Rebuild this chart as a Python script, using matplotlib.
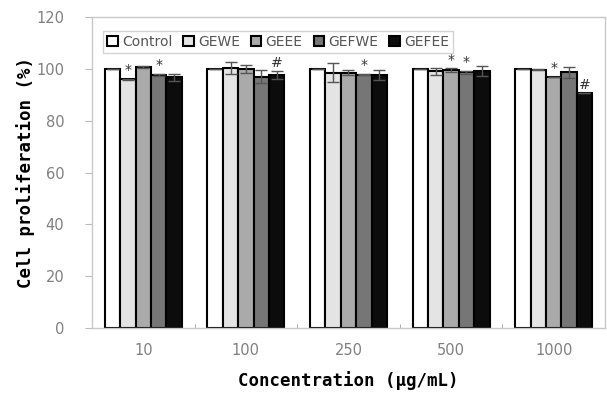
import numpy as np
import matplotlib
matplotlib.use('Agg')
import matplotlib.pyplot as plt

concs = ['10', '100', '250', '500', '1000']
groups = ['Control', 'GEWE', 'GEEE', 'GEFWE', 'GEFEE']
colors = ['#ffffff', '#e4e4e4', '#aaaaaa', '#767676', '#0c0c0c']

control = [100, 100, 100, 100, 100]
gewe = [95.9, 100.4, 98.5, 99.1, 99.7]
geee = [100.8, 100.0, 98.5, 99.6, 97.0]
gefwe = [97.7, 97.0, 97.8, 98.7, 98.7]
gefee = [96.7, 97.6, 97.6, 99.2, 90.5]

control_err = [0, 0, 0, 0, 0]
gewe_err = [0.3, 2.2, 3.7, 1.4, 0.3]
geee_err = [0.3, 1.5, 0.9, 0.8, 0.0]
gefwe_err = [0.4, 2.4, 0.3, 0.6, 2.2]
gefee_err = [1.4, 1.5, 1.9, 1.9, 0.0]

# significance marks (group index, conc index, symbol)
marks = [(1, 0, '*'), (3, 0, '*'), (4, 1, '#'), (3, 2, '*'),
         (2, 3, '*'), (3, 3, '*'), (2, 4, '*'), (4, 4, '#')]

values = [control, gewe, geee, gefwe, gefee]
errors = [control_err, gewe_err, geee_err, gefwe_err, gefee_err]

fig = plt.figure(figsize=(6.07, 3.93), dpi=100)
ax = fig.add_axes([0.1516, 0.1654, 0.845, 0.7913])

x = np.arange(len(concs))
w = 0.15
for i, g in enumerate(groups):
    pos = x + (i - 2) * w
    ax.bar(pos, values[i], w, color=colors[i], edgecolor='black',
           linewidth=1.5, label=g, zorder=2)
    ax.errorbar(pos, values[i], yerr=errors[i], fmt='none', ecolor='#555555',
                elinewidth=1, capsize=4, capthick=1, zorder=3)

for gi, ci, sym in marks:
    xx = x[ci] + (gi - 2) * w
    yy = values[gi][ci] + errors[gi][ci]
    ax.text(xx, yy + 0.5, sym, ha='center', va='bottom',
            fontsize=10, color='#333333')

ax.set_xlim(-0.5, 4.5)
ax.set_ylim(0, 120)
ax.set_yticks(np.arange(0, 121, 20))
ax.set_xticks(x)
ax.set_xticklabels(concs)
ax.set_xticks(np.arange(-0.5, 4.6, 1), minor=True)
ax.tick_params(axis='x', which='major', length=0, pad=11,
               labelsize=10.5, labelcolor='#808080')
ax.tick_params(axis='x', which='minor', length=3, direction='in',
               color='#999999')
ax.tick_params(axis='y', length=5, color='#bbbbbb', labelsize=10.5,
               labelcolor='#808080', pad=15)
for s in ax.spines.values():
    s.set_color('#c8c8c8')
    s.set_linewidth(1)

ax.set_xlabel('Concentration (\u03bcg/mL)', fontsize=12.5,
              family='DejaVu Sans Mono', fontweight='bold', labelpad=9)
ax.set_ylabel('Cell proliferation (%)', fontsize=12.5,
              family='DejaVu Sans Mono', fontweight='bold', labelpad=1)

leg = ax.legend(loc='upper left', ncol=5, fontsize=10, frameon=True,
                fancybox=False, edgecolor='#c8c8c8', handlelength=0.75,
                handleheight=0.75, handletextpad=0.3, columnspacing=0.8,
                borderpad=0.3, bbox_to_anchor=(0.008, 0.978))
leg.get_frame().set_linewidth(1)
for t in leg.get_texts():
    t.set_color('#555555')

fig.savefig('out.png', dpi=100)
